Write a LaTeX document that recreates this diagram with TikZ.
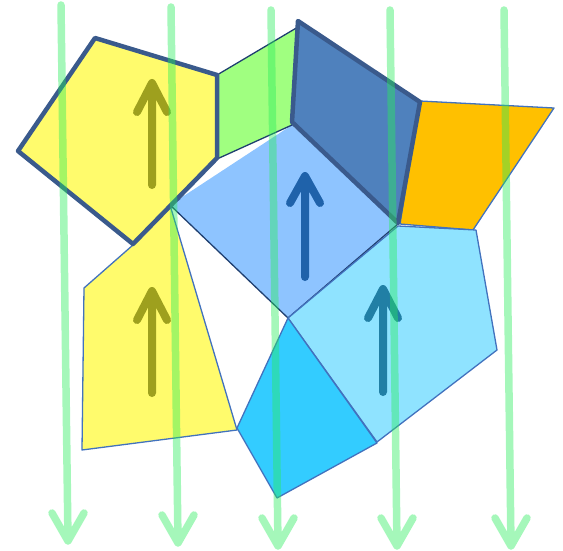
\documentclass[tikz,border=0pt]{standalone}
\begin{document}
\begin{tikzpicture}[x=1pt,y=-1pt,line join=round,
  thinb/.style={draw=bordblue,line width=1.3pt},
  thickb/.style={draw=darkbord,line width=4.5pt},
  uparrow/.style={line width=8pt,line cap=round,line join=round},
  downarrow/.style={draw=flowgreen,draw opacity=0.42,line width=7.5pt,line cap=round,line join=round}]
\definecolor{yel}{RGB}{255,251,108}
\definecolor{lgreen}{RGB}{160,255,128}
\definecolor{steel}{RGB}{79,129,189}
\definecolor{darkbord}{RGB}{58,90,140}
\definecolor{bordblue}{RGB}{66,114,190}
\definecolor{navy}{RGB}{31,63,112}
\definecolor{orng}{RGB}{255,192,0}
\definecolor{peri}{RGB}{142,196,255}
\definecolor{lcyan}{RGB}{143,227,255}
\definecolor{cyan2}{RGB}{51,204,255}
\definecolor{olive}{RGB}{158,160,30}
\definecolor{barrow}{RGB}{31,98,170}
\definecolor{tarrow}{RGB}{33,127,165}
\definecolor{flowgreen}{RGB}{40,237,91}
\useasboundingbox (0,0) rectangle (563,551);

% periwinkle
\fill[peri] (170,205) -- (292,125) -- (398,224) -- (288,318) -- cycle;
\draw[navy,line width=1.3pt] (170,205) -- (288,318) -- (398,224);
\draw[bordblue,line width=1.3pt] (170,205) -- (180,199);
% green quad
\filldraw[fill=lgreen,draw=navy,line width=1.3pt] (217,75) -- (298,27) -- (292,125) -- (217,159) -- cycle;
% orange
\filldraw[fill=orng,thinb] (420,101) -- (554,108) -- (473,230) -- (400,224) -- cycle;
% parallelogram
\filldraw[fill=steel,thickb] (298,21) -- (420,102) -- (398,223) -- (292,122) -- cycle;
% light cyan
\filldraw[fill=lcyan,thinb] (288,318) -- (398,226) -- (476,230) -- (497,350) -- (377,442) -- cycle;
% cyan quad
\filldraw[fill=cyan2,thinb] (288,318) -- (377,443) -- (277,498) -- (237,428) -- cycle;
% lower yellow
\filldraw[fill=yel,thinb] (170,205) -- (237,430) -- (82,450) -- (84,288) -- (133,245) -- cycle;
% pentagon
\filldraw[fill=yel,thickb] (95,38) -- (217,75) -- (217,158) -- (133,244) -- (18,151) -- cycle;

% up arrows
\draw[uparrow,olive] (152,185) -- (152,84) (137,112) -- (152,83) -- (167,112);
\draw[uparrow,olive] (152,393) -- (152,292) (137,320) -- (152,291) -- (167,320);
\draw[uparrow,barrow] (305,277) -- (305,177) (290,203) -- (305,176) -- (320,203);
\draw[uparrow,tarrow] (383,392) -- (383,290) (368,318) -- (383,289) -- (398,318);

% down arrows
\draw[downarrow] (61,5) -- (68,541) (52,513) -- (68,541) -- (84,513);
\draw[downarrow] (171,7) -- (178,543) (162,515) -- (178,543) -- (194,515);
\draw[downarrow] (271,10) -- (278,546) (262,518) -- (278,546) -- (294,518);
\draw[downarrow] (390,10) -- (397,546) (381,518) -- (397,546) -- (413,518);
\draw[downarrow] (504,10) -- (511,546) (495,518) -- (511,546) -- (527,518);
\end{tikzpicture}
\end{document}
